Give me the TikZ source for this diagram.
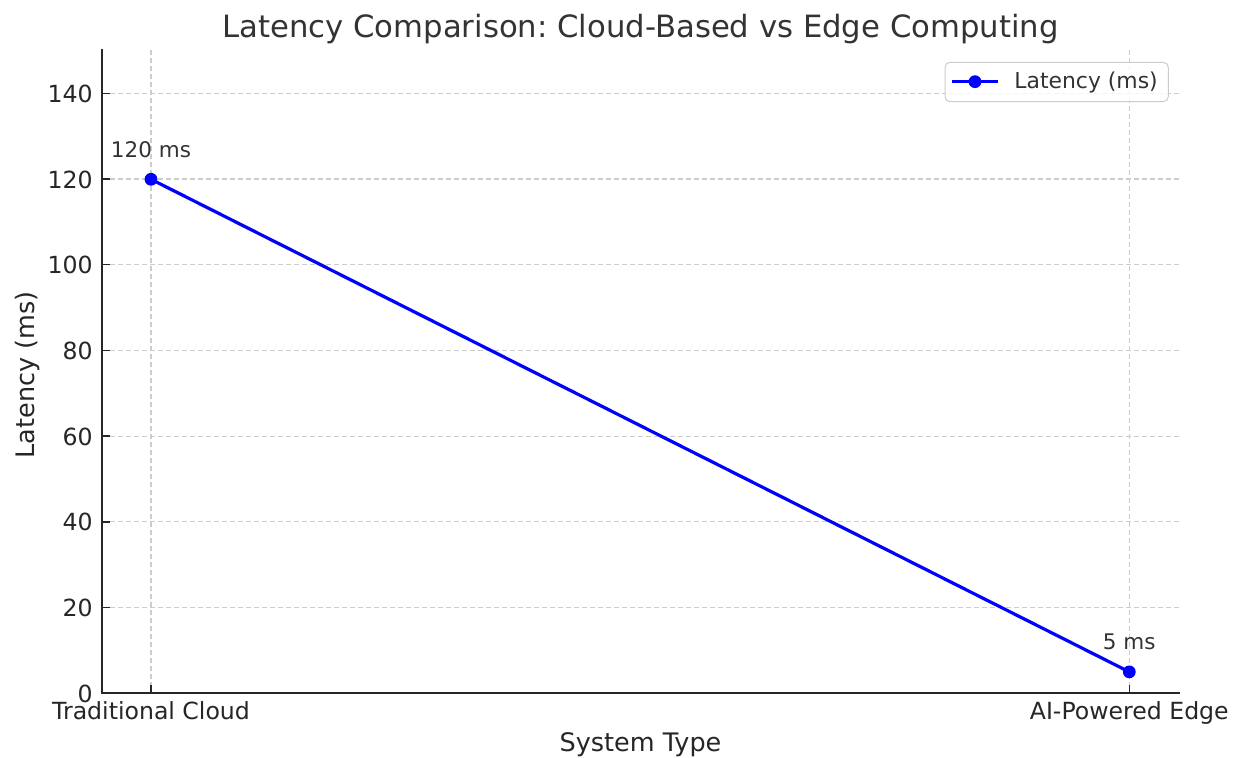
\documentclass[tikz,border=0pt]{standalone}
\usepackage{fontspec}
\setmainfont{DejaVu Sans}
\frenchspacing
\definecolor{axisgray}{HTML}{262626}
\definecolor{textgray}{HTML}{333333}
\definecolor{gridgray}{HTML}{CCCCCC}
\begin{document}
\begin{tikzpicture}[x=0.5pt,y=-0.5pt,
  gridline/.style={gridgray, line width=0.6pt, dash pattern=on 2.4pt off 1.6pt},
  spine/.style={axisgray, line width=1pt, line cap=rect},
  tickmark/.style={axisgray, line width=0.75pt},
  ticklabel/.style={text=axisgray, font=\fontsize{11.8}{14}\selectfont, inner sep=0pt},
  axislabel/.style={text=axisgray, font=\fontsize{12.75}{15}\selectfont, inner sep=0pt, anchor=base},
  series/.style={blue, line width=1.6pt},
  marker/.style={circle, fill=blue, inner sep=0pt, minimum size=6.4pt},
  annot/.style={text=textgray, font=\fontsize{10.75}{13}\selectfont, inner sep=0pt, anchor=base},
]
\useasboundingbox (0,0) rectangle (1233,758);

% horizontal grid, y ticks and their labels
\foreach \v in {0,20,...,140} {
  \pgfmathsetmacro\yy{693.3-4.2857*\v}
  \draw[gridline] (102,\yy) -- (1179,\yy);
  \draw[tickmark] (102,\yy) -- (110,\yy);
  \node[ticklabel, anchor=east] at (93,\yy+0.5) {\v};
}

% vertical grid and x ticks
\foreach \xx in {151,1129.3} {
  \draw[gridline] (\xx,50.4) -- (\xx,693.3);
  \draw[tickmark] (\xx,693.3) -- (\xx,685.3);
}

% axis spines
\draw[spine] (102,50.4) -- (102,693.3) -- (1179,693.3);

% category labels
\node[ticklabel, anchor=base] (cat1) at (151,719.6) {Traditional Cloud};
\node[ticklabel, anchor=base] (cat2) at (1129.3,719.6) {AI-Powered Edge};

% axis titles and chart title
\node[axislabel] (xlab) at (640.5,752) {System Type};
\node[axislabel, rotate=90] (ylab) at (34.5,375) {Latency (ms)};
\node[text=textgray, font=\fontsize{15.35}{18}\selectfont, inner sep=0pt, anchor=base] (title)
  at (640.5,37.3) {Latency Comparison: Cloud-Based vs Edge Computing};

% data series
\node[marker] (cloud) at (151,179.3) {};
\node[marker] (edge) at (1129.3,671.9) {};
\draw[series] (cloud.center) -- (edge.center);

% value annotations
\node[annot] (v1) at (151,158) {120 ms};
\node[annot] (v2) at (1129.3,650) {5 ms};

% legend
\draw[gridgray, line width=0.5pt, fill=white, fill opacity=0.8, rounded corners=2.5pt]
  (945,62.3) rectangle (1168.3,101.7);
\coordinate (lgA) at (951.7,81.7);
\coordinate (lgB) at (998.3,81.7);
\draw[series] (lgA) -- (lgB);
\node[marker] (lgm) at (975,81.7) {};
\node[text=textgray, font=\fontsize{10.95}{13}\selectfont, inner sep=0pt, anchor=base west]
  (lgt) at (1014,88.3) {Latency (ms)};
\end{tikzpicture}
\end{document}
